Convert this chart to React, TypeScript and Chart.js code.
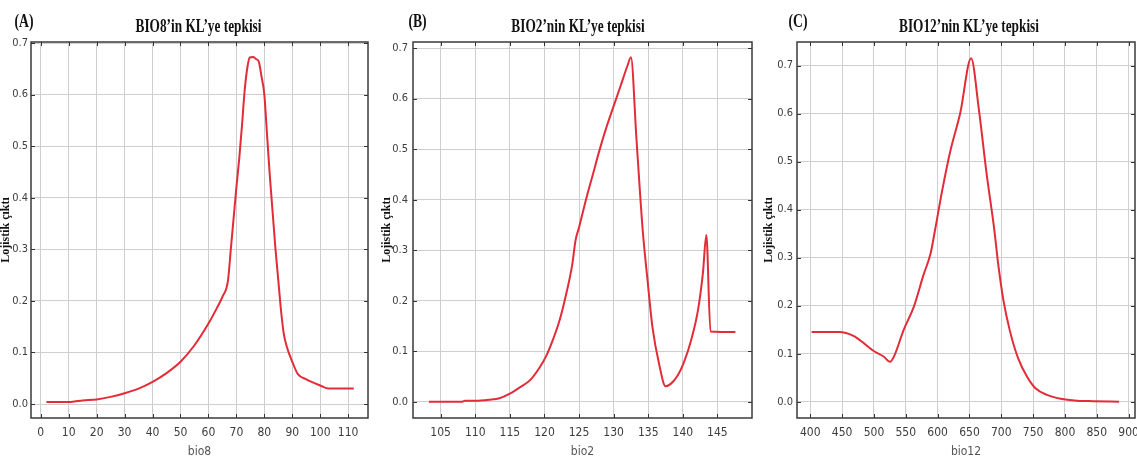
import React, { useEffect, useRef } from 'react';
import { Chart, registerables } from 'chart.js';

Chart.register(...registerables);

// ---- Panel A: bio8 ----
const bio8X = [2, 5, 10, 12, 15, 20, 25, 30, 35, 40, 45, 50, 55, 60, 63, 65, 67, 68, 69, 70, 71, 72, 73, 74, 74.8, 76, 77, 78, 79, 80, 81, 82, 83, 84, 85, 86, 87, 88, 89, 90, 92, 95, 100, 103, 112];
const bio8Y = [0.004, 0.004, 0.004, 0.005, 0.007, 0.009, 0.014, 0.021, 0.030, 0.043, 0.060, 0.082, 0.114, 0.156, 0.186, 0.208, 0.240, 0.300, 0.360, 0.420, 0.475, 0.540, 0.610, 0.655, 0.672, 0.673, 0.669, 0.664, 0.635, 0.600, 0.520, 0.440, 0.370, 0.300, 0.240, 0.180, 0.135, 0.112, 0.096, 0.082, 0.058, 0.048, 0.036, 0.030, 0.030];
const bio8Ticks = [0, 10, 20, 30, 40, 50, 60, 70, 80, 90, 100, 110];

// ---- Panel B: bio2 ----
const bio2X = [103.3, 105, 108, 108.5, 110, 112, 113.5, 115, 116.5, 118, 119.3, 120.3, 121.2, 122.2, 123, 124, 124.5, 125, 126, 127, 128, 129, 130, 131, 132, 132.5, 133.3, 134.2, 134.9, 135.6, 136.6, 137.5, 138.3, 139.3, 140.1, 141.2, 142.2, 142.9, 143.4, 144, 147.6];
const bio2Y = [0.0, 0.0, 0.0, 0.002, 0.002, 0.004, 0.007, 0.016, 0.029, 0.044, 0.068, 0.092, 0.122, 0.162, 0.205, 0.270, 0.320, 0.345, 0.400, 0.450, 0.500, 0.545, 0.585, 0.625, 0.665, 0.682, 0.520, 0.340, 0.241, 0.149, 0.073, 0.031, 0.036, 0.053, 0.076, 0.122, 0.182, 0.254, 0.330, 0.139, 0.138];
const bio2Ticks = [105, 110, 115, 120, 125, 130, 135, 140, 145];

// ---- Panel C: bio12 ----
const bio12X = [402, 445.5, 467.7, 483.9, 499, 515.2, 525.3, 532.4, 546.5, 562.7, 577.8, 589, 596, 607.2, 620.3, 635.5, 652.6, 664.8, 676.8, 689, 695, 703.2, 713.2, 726.5, 740.5, 753.7, 771.9, 793.1, 819.4, 844.6, 885];
const bio12Y = [0.145, 0.145, 0.137, 0.122, 0.106, 0.094, 0.083, 0.097, 0.149, 0.198, 0.264, 0.309, 0.358, 0.440, 0.524, 0.601, 0.715, 0.608, 0.476, 0.358, 0.288, 0.212, 0.149, 0.090, 0.052, 0.028, 0.014, 0.006, 0.002, 0.001, 0.0];
const bio12Ticks = [400, 450, 500, 550, 600, 650, 700, 750, 800, 850, 900];

const yTicks = [0, 0.1, 0.2, 0.3, 0.4, 0.5, 0.6, 0.7];

const titles = ['BIO8’in KL’ye tepkisi', 'BIO2’nin KL’ye tepkisi', 'BIO12’nin KL’ye tepkisi'];
const letters = ['(A)', '(B)', '(C)'];
const xTitles = ['bio8', 'bio2', 'bio12'];
const yTitle = 'Lojistik çıktı';

const NARROW = '"Liberation Sans Narrow", "DejaVu Sans Condensed", "Liberation Sans", Arial, sans-serif';
const SERIF = '"Liberation Serif", "Times New Roman", serif';

const decor = {
  id: 'decor',
  afterDraw(chart: any, _args: any, opts: any) {
    const { ctx, chartArea: a, scales } = chart;
    const x = scales.x;
    const y = scales.y;
    ctx.save();
    ctx.strokeStyle = '#333';
    ctx.lineWidth = 1;
    ctx.beginPath();
    x.ticks.forEach((t: any) => {
      const px = Math.round(x.getPixelForValue(t.value)) + 0.5;
      ctx.moveTo(px, a.top);
      ctx.lineTo(px, a.top + 4);
      ctx.moveTo(px, a.bottom);
      ctx.lineTo(px, a.bottom - 4);
    });
    y.ticks.forEach((t: any) => {
      const py = Math.round(y.getPixelForValue(t.value)) + 0.5;
      ctx.moveTo(a.left, py);
      ctx.lineTo(a.left + 4, py);
      ctx.moveTo(a.right, py);
      ctx.lineTo(a.right - 4, py);
    });
    ctx.stroke();
    ctx.strokeStyle = '#3a3a3a';
    ctx.lineWidth = 1.5;
    ctx.strokeRect(a.left, a.top, a.right - a.left, a.bottom - a.top);

    ctx.fillStyle = '#111';
    ctx.textAlign = 'center';
    ctx.textBaseline = 'alphabetic';
    // title
    ctx.save();
    ctx.font = 'bold 19px ' + SERIF;
    ctx.translate(opts.titleX, 32);
    ctx.scale(0.7, 1);
    ctx.fillText(opts.title, 0, 0);
    ctx.restore();
    // panel letter
    ctx.save();
    ctx.font = 'bold 19px ' + SERIF;
    ctx.translate(opts.letterX, 27);
    ctx.scale(0.72, 1);
    ctx.fillText(opts.letter, 0, 0);
    ctx.restore();
    ctx.restore();
  },
};

type PanelProps = {
  xs: number[];
  ys: number[];
  xTicks: number[];
  xMin: number;
  xMax: number;
  yMin: number;
  yMax: number;
  title: string;
  letter: string;
  xTitle: string;
  left: number;
  width: number;
  plotLeft: number;
  plotRight: number;
  yTickPad: number;
  yTitlePad: number;
  titleX: number;
  letterX: number;
};

function Panel(p: PanelProps) {
  const ref = useRef<HTMLCanvasElement>(null);
  useEffect(() => {
    if (!ref.current) return;
    const H = 461;
    const chart = new Chart(ref.current, {
      type: 'line',
      data: {
        datasets: [
          {
            data: p.xs.map((x, i) => ({ x, y: p.ys[i] })),
            borderColor: 'rgb(226,44,56)',
            borderWidth: 2,
            pointRadius: 0,
            fill: false,
            cubicInterpolationMode: 'monotone',
          },
        ],
      },
      options: {
        animation: false,
        responsive: false,
        maintainAspectRatio: false,
        layout: { padding: { top: 42, right: p.width - p.plotRight, bottom: 0, left: 0 } },
        plugins: {
          legend: { display: false },
          tooltip: { enabled: false },
          title: { display: false },
          decor: { title: p.title, letter: p.letter, titleX: p.titleX, letterX: p.letterX },
        } as any,
        scales: {
          x: {
            type: 'linear',
            min: p.xMin,
            max: p.xMax,
            grid: { color: '#cfcfcf', lineWidth: 1, drawTicks: false },
            border: { display: false },
            ticks: {
              padding: 8,
              color: '#3c3c3c',
              font: { family: NARROW, size: 12 },
              maxRotation: 0,
              autoSkip: false,
              callback: (v: any) => String(v),
            },
            title: {
              display: true,
              text: p.xTitle,
              color: '#555',
              font: { family: NARROW, size: 12 },
              padding: { top: 0, bottom: 2 },
            },
            afterBuildTicks: (s: any) => {
              s.ticks = p.xTicks.map((v) => ({ value: v }));
            },
            afterFit: (s: any) => {
              s.height = H - 418;
              s.paddingLeft = 0;
              s.paddingRight = 0;
            },
          },
          y: {
            type: 'linear',
            min: p.yMin,
            max: p.yMax,
            grid: { color: '#cfcfcf', lineWidth: 1, drawTicks: false },
            border: { display: false },
            ticks: {
              padding: p.yTickPad,
              color: '#3c3c3c',
              font: { family: NARROW, size: 11 },
              autoSkip: false,
              callback: (v: any) => Number(v).toFixed(1),
            },
            title: {
              display: true,
              text: yTitle,
              color: '#111',
              font: { family: SERIF, size: 12, weight: 'bold', lineHeight: 1 },
              padding: { top: p.yTitlePad, bottom: 0 },
            },
            afterBuildTicks: (s: any) => {
              s.ticks = yTicks.map((v) => ({ value: v }));
            },
            afterFit: (s: any) => {
              s.width = p.plotLeft;
              s.paddingTop = 0;
              s.paddingBottom = 0;
            },
          },
        },
      },
      plugins: [decor],
    } as any);
    return () => chart.destroy();
  }, []);
  return (
    <canvas
      ref={ref}
      width={p.width}
      height={461}
      style={{ position: 'absolute', left: p.left, top: 0, width: p.width, height: 461 }}
    />
  );
}

export default function App() {
  return (
    <div style={{ position: 'absolute', left: 0, top: 0, width: 1137, height: 461, background: '#fff', overflow: 'hidden' }}>
      <Panel
        xs={bio8X} ys={bio8Y} xTicks={bio8Ticks}
        xMin={-3.5} xMax={117.1} yMin={-0.027} yMax={0.702}
        title={titles[0]} letter={letters[0]} xTitle={xTitles[0]}
        left={0} width={379} plotLeft={31} plotRight={368}
        yTickPad={3} yTitlePad={0} titleX={198.5} letterX={24}
      />
      <Panel
        xs={bio2X} ys={bio2Y} xTicks={bio2Ticks}
        xMin={101} xMax={150} yMin={-0.032} yMax={0.712}
        title={titles[1]} letter={letters[1]} xTitle={xTitles[1]}
        left={379} width={378} plotLeft={34} plotRight={373}
        yTickPad={5} yTitlePad={2} titleX={199} letterX={38.5}
      />
      <Panel
        xs={bio12X} ys={bio12Y} xTicks={bio12Ticks}
        xMin={379.1} xMax={910} yMin={-0.034} yMax={0.749}
        title={titles[2]} letter={letters[2]} xTitle={xTitles[2]}
        left={757} width={380} plotLeft={40} plotRight={378}
        yTickPad={4} yTitlePad={6} titleX={212} letterX={41}
      />
    </div>
  );
}
